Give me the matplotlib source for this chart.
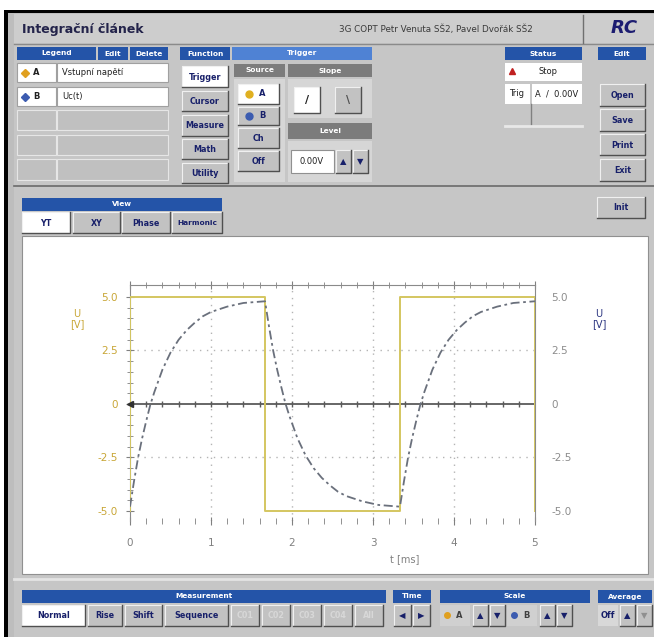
import matplotlib
matplotlib.use("Agg")
import matplotlib.pyplot as plt
from matplotlib.patches import Rectangle
import numpy as np

# values
t_ticks = [0, 1, 2, 3, 4, 5]
t_labels = ["0", "1", "2", "3", "4", "5"]
u_ticks = [-5.0, -2.5, 0.0, 2.5, 5.0]
u_labels = ["-5.0", "-2.5", "0", "2.5", "5.0"]
grid_t = [1, 2, 3, 4]
grid_u = [-2.5, 2.5]

# channel A - input square wave
in_t = [0.0, 0.0, 1.667, 1.667, 3.333, 3.333, 5.0, 5.0]
in_u = [-5.0, 5.0, 5.0, -5.0, -5.0, 5.0, 5.0, -5.0]

# channel B - voltage on the capacitor
c_t = [0.0, 0.05, 0.1, 0.15, 0.2, 0.25, 0.3, 0.4, 0.5, 0.6, 0.7, 0.8, 0.9, 1.0, 1.2, 1.4, 1.6, 1.667,
       1.717, 1.767, 1.817, 1.867, 1.917, 1.967, 2.067, 2.167, 2.267, 2.367, 2.467, 2.567, 2.667, 2.867, 3.067, 3.267, 3.333,
       3.383, 3.433, 3.483, 3.533, 3.583, 3.633, 3.733, 3.833, 3.933, 4.033, 4.133, 4.233, 4.333, 4.533, 4.733, 4.933, 5.0]
c_u = [-4.8, -3.6, -2.5, -1.6, -0.8, -0.05, 0.55, 1.6, 2.4, 3.0, 3.45, 3.8, 4.1, 4.3, 4.55, 4.72, 4.78, 4.8,
       3.6, 2.5, 1.6, 0.8, 0.05, -0.55, -1.6, -2.4, -3.0, -3.45, -3.8, -4.1, -4.3, -4.55, -4.72, -4.78, -4.8,
       -3.6, -2.5, -1.6, -0.8, -0.05, 0.55, 1.6, 2.4, 3.0, 3.45, 3.8, 4.1, 4.3, 4.55, 4.72, 4.78, 4.8]

W, H = 654, 637
BLUE = "#2454a8"
LBLUE = "#4f82d4"
GREYH = "#7c7c7c"
PANEL = "#c6c6c6"
BTN = "#c2c2c2"
NAVY = "#18206a"
GOLD = "#c8a636"

fig = plt.figure(figsize=(W / 100, H / 100), dpi=100)
fig.patch.set_facecolor("white")

# whole window drawn in pixel coordinates
ui = fig.add_axes([0, 0, 1, 1])
ui.set_xlim(0, W)
ui.set_ylim(H, 0)
ui.set_autoscale_on(False)
ui.axis("off")


def rect(x0, y0, x1, y1, fc, ec="none", lw=0.8, z=1):
    ui.add_patch(Rectangle((x0, y0), x1 - x0, y1 - y0, facecolor=fc,
                           edgecolor=ec, linewidth=lw, zorder=z))


def label(x, y, s, size=5.8, color=NAVY, weight="bold", ha="center", **kw):
    ui.text(x, y, s, fontsize=size, color=color, fontweight=weight,
            ha=ha, va="center", zorder=5, **kw)


def header(x0, y0, x1, y1, s, fc=BLUE):
    rect(x0, y0, x1, y1, fc, z=2)
    label((x0 + x1) / 2, (y0 + y1) / 2, s, color="white", size=5.3)


def button(x0, y0, x1, y1, s="", fc=BTN, tc=NAVY, size=5.8):
    rect(x0, y0, x1, y1, fc, z=2)
    ui.plot([x0, x0, x1], [y1, y0, y0], color="#f0f0f0", lw=0.8, zorder=3)
    ui.plot([x0, x1, x1], [y1, y1, y0], color="#505050", lw=1.0, zorder=3)
    if s:
        label((x0 + x1) / 2, (y0 + y1) / 2 + 0.5, s, color=tc, size=size)


# frame of the window
rect(4, 10, W, H, "black")
rect(8, 13, W, H, "#bdbdbd")
rect(14, 14, W, H, PANEL)
rect(14, 14, W, 43, "#cdcdcd")
ui.plot([14, W], [43.5, 43.5], color="#8a8a8a", lw=1)
ui.plot([583, 583], [15, 43], color="#707070", lw=1)
label(22, 29, "Integrační článek", size=9, color="#23234a", ha="left")
label(436, 29, "3G COPT Petr Venuta SŠ2, Pavel Dvořák SŠ2", size=6.3,
      color="#3a3a3a", weight="normal")
label(624, 28, "RC", size=13, color="#1c1c70", style="italic")

# legend block
header(17, 47, 96, 60, "Legend")
header(98, 47, 128, 60, "Edit")
header(130, 47, 168, 60, "Delete")
for (y0, y1), mk, ch, name in [((63, 82), "#e0a020", "A", "Vstupní napětí"),
                               ((87, 106), "#3c5cb0", "B", "Uc(t)")]:
    rect(17, y0, 56, y1, "white", ec="#a0a0a0")
    rect(57, y0, 168, y1, "white", ec="#a0a0a0")
    ui.plot(25, (y0 + y1) / 2, marker="D", ms=4, color=mk, zorder=5)
    label(36, (y0 + y1) / 2, ch, color="#202020", size=6)
    label(62, (y0 + y1) / 2, name, color="#202020", size=6, weight="normal", ha="left")
for y0, y1 in [(110, 130), (135, 155), (159, 180)]:
    rect(17, y0, 56, y1, "#c0c0c0", ec="#e6e6e6")
    rect(57, y0, 168, y1, "#c0c0c0", ec="#e6e6e6")

# function / trigger block
header(180, 47, 230, 60, "Function")
header(232, 47, 372, 60, "Trigger", fc=LBLUE)
for (y0, y1), s in zip([(66, 87), (91, 111), (115, 136), (139, 159), (163, 183)],
                       ["Trigger", "Cursor", "Measure", "Math", "Utility"]):
    button(182, y0, 228, y1, s, fc="white" if s == "Trigger" else BTN)
header(234, 64, 285, 77, "Source", fc=GREYH)
header(288, 64, 372, 77, "Slope", fc=GREYH)
rect(234, 79, 285, 182, "#d6d6d6")
button(238, 84, 279, 104, "", fc="white")
ui.plot(249, 94, marker="o", ms=5, color="#e0b020", zorder=5)
label(262, 94, "A", size=6)
button(238, 107, 279, 125, "", fc=BTN)
ui.plot(249, 116, marker="o", ms=5, color="#3c5cb0", zorder=5)
label(262, 116, "B", size=6)
button(238, 128, 279, 148, "Ch")
button(238, 151, 279, 171, "Off")
rect(288, 79, 372, 118, "#d6d6d6")
button(294, 87, 320, 113, "/", fc="white", tc="#202020", size=8)
button(335, 87, 361, 113, "\\", tc="#505050", size=8)
header(288, 123, 372, 139, "Level", fc=GREYH)
rect(288, 141, 372, 182, "#d6d6d6")
rect(291, 150, 334, 173, "white", ec="#909090")
label(312, 162, "0.00V", color="#202020", size=6, weight="normal")
button(336, 150, 351, 173, "▲", size=6)
button(353, 150, 368, 173, "▼", size=6)

# status block
header(505, 47, 582, 60, "Status")
rect(505, 63, 582, 81, "white")
ui.plot(512, 71, marker="^", ms=4, color="#c02020", zorder=5)
label(548, 72, "Stop", color="#202020", size=6, weight="normal")
rect(505, 84, 530, 104, "white")
rect(532, 84, 582, 104, "white")
label(517, 94, "Trig", color="#202020", size=6, weight="normal")
label(557, 94, "A  /  0.00V", color="#202020", size=6, weight="normal")
ui.plot([531, 531], [104, 126], color="#808080", lw=1)
ui.plot([505, 582], [126, 126], color="#e8e8e8", lw=2)

# edit block
header(598, 47, 646, 60, "Edit")
for (y0, y1), s in zip([(84, 106), (109, 131), (134, 155), (159, 181)],
                       ["Open", "Save", "Print", "Exit"]):
    button(600, y0, 645, y1, s)

ui.plot([14, W], [186, 186], color="#6a6a6a", lw=1.2)

# view tabs
header(22, 198, 222, 211, "View")
button(22, 212, 70, 233, "YT", fc="white")
button(73, 212, 120, 233, "XY")
button(122, 212, 170, 233, "Phase")
button(172, 212, 222, 233, "Harmonic", size=5.3)
button(597, 197, 645, 218, "Init")

rect(22, 236, 648, 574, "white", ec="#909090")

# bottom toolbar
ui.plot([14, W], [579, 579], color="#e4e4e4", lw=2)
header(22, 590, 386, 603, "Measurement")
button(22, 605, 85, 626, "Normal", fc="white")
button(88, 605, 122, 626, "Rise")
button(125, 605, 162, 626, "Shift")
button(165, 605, 228, 626, "Sequence")
for i, s in enumerate(["C01", "C02", "C03", "C04", "All"]):
    button(231 + 31 * i, 605, 259 + 31 * i, 626, s, tc="#d8d8d8")
header(393, 590, 431, 603, "Time")
button(394, 605, 411, 626, "◀", size=6)
button(413, 605, 430, 626, "▶", size=6)
header(440, 590, 590, 603, "Scale")
rect(440, 605, 470, 626, "#d0d0d0")
ui.plot(447, 615, marker="o", ms=4, color="#e0a020", zorder=5)
label(459, 615, "A", color="#404040", size=6)
button(473, 605, 488, 626, "▲", size=6)
button(490, 605, 505, 626, "▼", size=6)
rect(507, 605, 537, 626, "#d0d0d0")
ui.plot(514, 615, marker="o", ms=4, color="#3c5cb0", zorder=5)
label(526, 615, "B", color="#404040", size=6)
button(540, 605, 555, 626, "▲", size=6)
button(557, 605, 572, 626, "▼", size=6)
header(598, 590, 652, 603, "Average")
rect(598, 605, 618, 626, "#d8d8d8")
label(608, 615, "Off", size=6)
button(620, 605, 635, 626, "▲", size=6)
button(637, 605, 652, 626, "▼", size=6, tc="#909090")

# axis captions
label(77, 319, "U\n[V]", color=GOLD, size=7, weight="normal", linespacing=1.0)
label(599, 319, "U\n[V]", color="#2a3480", size=7, weight="normal", linespacing=1.0)
label(405, 559, "t [ms]", color="#808080", size=7, weight="normal")

# the scope plot itself
ax = fig.add_axes([130 / W, 1 - 521 / H, 405 / W, 236 / H])
ax.set_facecolor("none")
ax.set_xlim(0, 5)
ax.set_ylim(-5.47, 5.56)
for g in grid_t:
    ax.axvline(g, color="#b4b4b4", lw=1, ls=(0, (1, 4)), zorder=1)
for g in grid_u:
    ax.axhline(g, color="#b4b4b4", lw=1, ls=(0, (1, 4)), zorder=1)
ax.axhline(0, color="#5a5a5a", lw=1.3, zorder=2)
minor_t = np.arange(0, 5.01, 0.2)
ax.plot(minor_t, np.zeros_like(minor_t), ls="none", marker="|", ms=5,
        color="#5a5a5a", zorder=2)
ax.plot(in_t, in_u, color="#d4c660", lw=1.4, zorder=3)
ax.plot(c_t, c_u, color="#6a707c", lw=1.3, dashes=(5, 2, 1.5, 2), zorder=4)
ax.plot([0], [0], marker="<", ms=5, color="#303030", zorder=5, clip_on=False)

for side in ["top", "left", "right"]:
    ax.spines[side].set_color("#8a8a8a")
ax.spines["bottom"].set_visible(False)
ax.set_xticks(t_ticks)
ax.set_xticklabels(t_labels)
ax.set_xticks(minor_t, minor=True)
ax.set_yticks(u_ticks)
ax.set_yticklabels(u_labels)
ax.set_yticks(np.arange(-5, 5.01, 0.5), minor=True)
ax.tick_params(which="both", direction="inout", color="#808080", top=True, right=True)
ax.tick_params(which="major", length=6)
ax.tick_params(which="minor", length=4)
ax.tick_params(axis="x", labelsize=7.5, labelcolor="#808080", pad=9)
ax.tick_params(axis="y", labelsize=7.5, labelcolor=GOLD, pad=6)

ax2 = ax.twinx()
ax2.set_ylim(ax.get_ylim())
ax2.set_yticks(u_ticks)
ax2.set_yticklabels(u_labels)
ax2.tick_params(axis="y", length=0, labelsize=7.5, labelcolor="#8c8c8c", pad=12)
ax2.axis("on")
for side in ["top", "left", "right", "bottom"]:
    ax2.spines[side].set_visible(False)

fig.savefig("out.png", dpi=100)
